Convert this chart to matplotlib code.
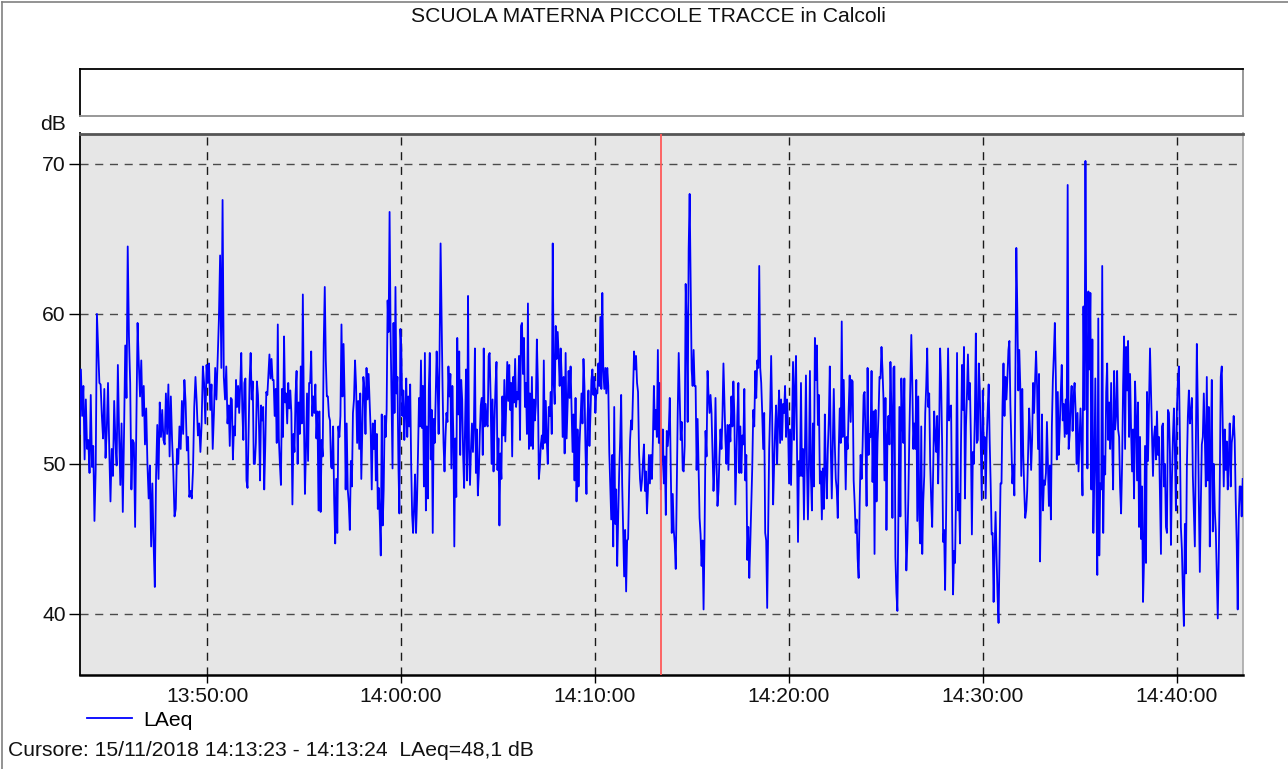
import numpy as np
import pandas as pd
import matplotlib
matplotlib.use('Agg')
from matplotlib import pyplot as plt
import matplotlib.dates as mdates
from matplotlib.lines import Line2D

plt.rcParams['font.family'] = ['Liberation Sans', 'DejaVu Sans']

day = '2018-11-15 '
title = 'SCUOLA MATERNA PICCOLE TRACCE in Calcoli'
cursor_time = '14:13:23'
cursor_text = 'Cursore: 15/11/2018 14:13:23 - 14:13:24  LAeq=48,1 dB'
x_from, x_to = '13:43:27', '14:43:24'
y_from, y_to = 35.93, 72.03
y_ticks = [40, 50, 60, 70]

# LAeq [dB] (each piece starts at seg_start)
seg_start = ['13:43:26', '13:51:07', '13:58:39', '14:06:14',
             '14:13:48', '14:21:23', '14:28:58', '14:36:30']
seg_end = '14:43:23'

laeq_a = [52.0, 56.3, 53.2, 55.2, 50.3, 54.3, 51.0, 51.6, 49.4, 54.6,
          49.8, 51.2, 46.2, 49.6, 60.0, 57.6, 55.4, 55.3, 53.2, 51.7,
          55.0, 50.4, 52.3, 55.4, 51.0, 47.5, 51.0, 49.2, 54.2, 51.6,
          49.9, 56.6, 52.0, 48.6, 52.7, 46.8, 52.0, 57.9, 54.4, 64.5,
          58.5, 55.4, 48.3, 51.6, 51.4, 45.8, 52.5, 59.4, 56.7, 54.5,
          56.9, 53.2, 55.2, 51.3, 53.7, 50.0, 47.7, 49.9, 44.5, 48.7,
          44.7, 41.8, 49.2, 52.6, 49.0, 54.1, 51.8, 53.6, 51.6, 51.3,
          54.7, 52.0, 55.3, 50.5, 54.5, 51.6, 49.5, 46.5, 47.0, 51.0,
          50.0, 52.5, 51.0, 54.2, 52.0, 55.6, 54.1, 50.9, 51.8, 47.8,
          48.2, 47.7, 49.6, 53.8, 55.8, 54.1, 51.9, 52.7, 50.8, 52.7,
          56.5, 55.4, 52.7, 56.6, 55.4, 56.7, 53.6, 55.3, 51.0, 53.4,
          56.4, 54.3, 56.9, 59.6, 63.9, 56.4, 67.6, 55.8, 54.3, 56.5,
          52.7]
laeq_b = [53.9, 51.2, 54.4, 54.3, 50.3, 52.5, 51.9, 55.6, 53.8, 55.2,
          53.4, 55.2, 57.4, 53.6, 51.6, 55.4, 55.7, 48.9, 48.4, 52.0,
          55.6, 57.4, 54.3, 55.5, 50.0, 50.0, 51.4, 55.5, 54.6, 52.5,
          48.9, 53.9, 52.9, 53.8, 48.3, 51.2, 54.8, 54.6, 56.0, 57.3,
          55.7, 57.0, 55.6, 55.6, 53.2, 55.0, 51.4, 59.3, 51.7, 50.0,
          48.6, 55.0, 51.8, 58.5, 54.1, 54.7, 52.7, 55.4, 53.7, 54.9,
          53.4, 47.3, 52.0, 50.8, 54.6, 56.2, 50.0, 54.1, 52.0, 56.5,
          52.7, 61.3, 53.2, 48.0, 51.0, 54.7, 50.2, 55.4, 55.4, 57.5,
          53.2, 54.5, 53.4, 55.3, 51.7, 53.5, 46.9, 53.5, 46.8, 51.6,
          50.5, 58.0, 61.8, 56.9, 54.5, 54.5, 53.2, 52.9, 49.8, 49.7,
          52.5, 47.6, 44.7, 49.0, 45.4, 52.5, 51.8, 53.2, 59.3, 54.5,
          58.0, 54.5, 48.3, 52.7, 48.3, 47.4, 45.6, 50.2, 48.5, 53.4,
          54.3, 56.9, 55.2, 51.4, 54.2, 51.0, 54.7, 49.0, 52.5, 55.8,
          55.0, 52.0, 56.4, 54.3, 56.0, 54.1, 52.2, 48.3, 52.7, 51.0]
laeq_c = [52.9, 48.9, 52.0, 47.0, 48.4, 46.3, 43.9, 53.3, 45.9, 48.3,
          53.2, 51.8, 53.6, 60.9, 58.8, 66.8, 58.9, 54.5, 49.7, 59.4,
          53.4, 61.8, 54.7, 55.8, 50.0, 46.7, 59.0, 57.6, 53.2, 54.9,
          51.6, 53.4, 55.7, 51.8, 54.5, 52.5, 55.3, 50.0, 46.6, 45.4,
          47.2, 49.3, 45.4, 47.6, 50.8, 54.4, 52.5, 56.9, 52.4, 55.2,
          48.5, 57.4, 46.9, 52.5, 47.7, 55.0, 57.4, 50.3, 53.6, 45.4,
          53.0, 51.4, 54.6, 57.5, 55.4, 52.0, 57.6, 64.7, 59.8, 55.2,
          51.4, 49.5, 51.8, 53.4, 52.8, 56.5, 54.5, 56.0, 49.7, 55.2,
          51.9, 44.5, 51.7, 47.8, 58.4, 53.3, 57.5, 50.6, 55.6, 54.3,
          50.6, 48.4, 52.8, 56.3, 48.9, 61.2, 51.0, 48.6, 51.0, 52.7,
          50.8, 52.7, 57.7, 49.4, 52.3, 47.9, 49.4, 52.0, 53.9, 54.4,
          50.6, 57.7, 52.5, 54.0, 52.7, 52.5, 57.2, 57.4, 54.5, 50.0,
          54.3, 49.5, 52.9, 55.2, 56.8, 49.6, 51.7, 45.9, 50.7, 49.0,
          54.5, 51.9, 55.6, 51.5, 54.3, 56.8, 54.2, 56.6, 53.6, 55.4,
          50.5, 55.8, 54.1, 57.0, 53.8, 54.8, 54.3, 57.2, 51.6, 59.2]
laeq_d = [59.4, 56.0, 58.4, 53.8, 55.4, 52.0, 60.7, 51.0, 54.7, 51.2,
          55.8, 51.0, 54.3, 52.9, 54.0, 58.3, 55.4, 49.0, 49.8, 51.3,
          51.9, 51.0, 56.9, 51.4, 54.2, 51.6, 50.0, 53.8, 53.2, 54.8,
          52.0, 64.7, 55.4, 54.0, 59.2, 57.0, 58.8, 57.2, 55.2, 57.7,
          55.8, 51.8, 55.8, 50.7, 57.4, 51.7, 54.0, 56.2, 54.4, 56.5,
          53.6, 50.8, 53.3, 48.9, 54.4, 47.5, 52.3, 48.5, 51.3, 52.9,
          54.7, 52.7, 57.0, 55.2, 51.0, 48.0, 52.9, 54.9, 51.2, 53.2,
          55.6, 56.3, 54.6, 55.8, 53.4, 54.9, 54.7, 56.7, 55.2, 59.8,
          55.0, 61.4, 56.2, 55.0, 56.4, 54.7, 56.4, 55.2, 50.8, 48.5,
          46.3, 50.6, 44.5, 53.8, 46.0, 48.3, 43.2, 46.5, 49.4, 51.6,
          54.6, 48.7, 45.5, 42.5, 45.6, 41.5, 44.9, 45.0, 48.5, 51.6,
          52.9, 52.3, 54.9, 57.5, 56.3, 57.2, 55.4, 54.8, 50.8, 49.0,
          48.2, 48.9, 50.2, 51.3, 48.2, 49.5, 46.7, 48.3, 50.6, 48.7,
          50.6, 49.0, 51.6, 55.2, 52.3, 53.6, 51.8, 57.6, 51.4, 55.4,
          48.3, 50.8, 52.3, 48.7, 50.5, 46.6, 52.2, 51.2]
laeq_e = [52.3, 54.4, 49.6, 45.4, 48.0, 45.6, 44.7, 43.0, 48.3, 53.4,
          57.4, 54.5, 51.6, 52.8, 49.6, 49.5, 51.2, 62.0, 59.4, 52.8,
          64.3, 68.0, 62.0, 56.3, 55.2, 57.6, 55.2, 55.2, 49.6, 53.0,
          49.6, 46.4, 45.3, 43.2, 44.9, 40.3, 45.2, 52.2, 50.5, 56.2,
          54.6, 53.4, 54.6, 53.4, 50.7, 48.2, 49.8, 54.4, 50.3, 47.2,
          48.2, 50.5, 52.3, 51.0, 53.2, 56.7, 54.0, 51.6, 50.0, 52.6,
          49.6, 52.6, 51.5, 54.5, 52.5, 55.5, 53.2, 47.3, 50.3, 53.2,
          55.4, 49.4, 52.5, 49.4, 51.9, 51.3, 55.0, 48.9, 50.6, 43.6,
          45.8, 42.4, 44.7, 47.4, 49.8, 53.6, 52.5, 56.2, 54.4, 56.9,
          56.4, 63.2, 56.4, 55.4, 53.4, 51.0, 53.4, 45.4, 44.9, 40.4,
          45.8, 51.0, 53.6, 57.2, 53.2, 47.3, 50.0, 52.3, 53.9, 50.0,
          52.9, 54.9, 51.4, 54.3, 51.6, 54.0, 53.4, 55.2, 51.8, 54.3,
          52.6, 48.7, 52.3, 48.6, 52.4, 56.8, 51.6, 54.9, 57.2, 51.2,
          44.8, 50.2, 49.2, 55.4, 49.2, 51.0, 46.3, 51.0, 55.9, 50.0,
          46.3, 49.9, 56.2, 49.2, 46.9, 52.7, 48.5, 58.4]
laeq_f = [55.6, 57.9, 52.6, 54.6, 48.7, 49.5, 46.3, 49.7, 47.0, 53.3,
          49.6, 47.7, 51.0, 52.9, 56.5, 51.0, 47.7, 51.4, 55.0, 51.4,
          49.0, 48.3, 46.4, 51.0, 53.7, 51.4, 59.5, 51.8, 55.6, 51.8,
          48.3, 51.8, 51.0, 53.7, 55.9, 52.8, 55.6, 55.5, 48.9, 47.4,
          45.4, 46.3, 43.7, 42.4, 47.2, 50.6, 49.0, 51.2, 54.6, 54.8,
          51.4, 47.2, 56.4, 50.6, 52.0, 51.8, 56.2, 48.8, 53.5, 44.0,
          53.6, 47.5, 51.5, 53.2, 55.8, 55.7, 57.8, 56.3, 54.3, 48.9,
          54.4, 45.6, 51.8, 53.2, 51.3, 56.8, 53.6, 46.4, 56.4, 56.5,
          43.8, 41.4, 40.2, 46.5, 53.8, 46.5, 55.7, 52.9, 51.4, 55.7,
          47.5, 42.9, 44.7, 47.7, 51.9, 55.4, 58.6, 55.4, 51.0, 52.7,
          51.0, 55.6, 46.2, 54.5, 46.6, 44.7, 52.5, 44.0, 47.5, 49.2,
          53.4, 55.2, 57.7, 53.8, 54.7, 50.0, 47.6, 45.8, 49.6, 53.5,
          51.9, 50.8, 53.2, 48.7, 52.0, 57.7, 55.4, 51.4, 44.8, 45.6,
          41.6, 46.5, 53.2, 57.7, 52.9, 53.8, 53.9, 46.9, 41.3, 44.2,
          43.4, 48.2, 57.4, 46.9, 48.0, 44.7, 51.4, 56.6]
laeq_g = [53.6, 57.8, 47.7, 52.5, 54.6, 57.3, 54.3, 55.4, 51.6, 45.3,
          50.8, 50.0, 53.2, 58.7, 51.4, 51.6, 56.7, 54.9, 51.4, 47.6,
          54.9, 51.0, 51.8, 47.7, 51.6, 53.6, 55.3, 51.6, 48.7, 45.3,
          45.4, 40.8, 44.3, 46.8, 43.8, 41.2, 39.4, 44.3, 48.7, 48.7,
          53.9, 56.7, 53.2, 55.8, 54.3, 55.8, 57.6, 58.2, 53.9, 51.4,
          48.7, 49.9, 47.9, 55.4, 64.4, 60.3, 54.9, 57.6, 55.2, 49.2,
          55.0, 50.7, 48.3, 46.4, 46.9, 48.2, 51.0, 53.7, 52.0, 49.6,
          51.6, 55.4, 53.4, 55.6, 57.5, 55.2, 51.0, 56.0, 43.5, 48.0,
          53.3, 46.9, 48.9, 48.6, 49.4, 52.8, 49.9, 47.2, 49.9, 46.3,
          52.5, 55.6, 57.3, 59.4, 55.8, 50.3, 54.8, 50.6, 52.5, 54.7,
          56.6, 52.9, 54.0, 51.8, 54.3, 52.0, 68.6, 51.0, 51.9, 54.0,
          55.2, 52.2, 54.5, 55.4, 53.6, 50.0, 53.4, 49.5, 51.7, 53.7,
          51.2, 47.9, 60.5, 53.6, 70.2, 57.2, 49.7, 61.5, 56.3, 61.4,
          48.3, 58.3, 45.4, 49.4, 55.7, 48.6, 42.6, 59.7, 43.9, 48.7,
          48.3, 63.2, 45.4, 50.5, 49.3, 54.8, 56.7, 51.6]
laeq_h = [54.1, 51.0, 55.4, 51.6, 48.3, 56.2, 52.3, 53.2, 56.2, 52.3,
          51.8, 48.4, 46.7, 50.0, 55.2, 58.5, 51.0, 57.8, 54.9, 58.2,
          51.8, 56.0, 52.3, 49.5, 52.3, 47.7, 55.5, 53.2, 48.9, 54.1,
          45.8, 51.8, 45.0, 48.5, 40.8, 43.6, 51.2, 43.4, 54.8, 50.2,
          54.1, 57.7, 54.7, 52.0, 49.2, 51.8, 52.5, 50.3, 53.5, 50.6,
          51.8, 47.8, 44.0, 52.5, 52.7, 48.5, 50.0, 45.8, 45.4, 53.6,
          53.4, 50.7, 44.6, 48.9, 51.8, 53.7, 50.8, 46.9, 53.6, 55.6,
          56.5, 51.8, 45.8, 44.3, 41.5, 39.2, 46.0, 42.7, 49.8, 53.2,
          54.9, 52.7, 53.4, 54.4, 49.2, 46.9, 44.5, 51.0, 58.0, 53.6,
          47.6, 42.8, 47.4, 51.3, 51.8, 54.7, 51.8, 48.5, 55.8, 48.9,
          53.8, 44.5, 51.0, 55.6, 45.5, 50.0, 46.9, 45.6, 42.5, 39.7,
          43.8, 48.7, 55.8, 56.5, 52.3, 48.5, 52.3, 49.6, 51.5, 48.3,
          50.3, 52.7, 48.5, 51.4, 52.0, 53.2, 51.6, 47.6, 44.7, 40.3,
          46.3, 48.5, 48.5, 46.5, 49.0]

segments = [laeq_a, laeq_b, laeq_c, laeq_d, laeq_e, laeq_f, laeq_g, laeq_h]


def tnum(hms):
  return mdates.date2num(pd.Timestamp(day + hms))


bounds = [tnum(s) for s in seg_start] + [tnum(seg_end)]
t = []
v = []
for i, seg in enumerate(segments):
  last = (i == len(segments) - 1)
  t.extend(np.linspace(bounds[i], bounds[i + 1], len(seg), endpoint=last))
  v.extend(seg)

W, H = 1288, 769
fs = 15.2
fig = plt.figure(figsize=(W / 100, H / 100), dpi=100)

# outer frame (top and left edges only visible)
fig.add_artist(Line2D([1.5 / W, 1.5 / W], [0, 1 - 1.5 / H], color='#808080', lw=1.2))
fig.add_artist(Line2D([1.5 / W, 1], [1 - 1.5 / H, 1 - 1.5 / H], color='#808080', lw=1.2))

fig.text(648 / W, 1 - 17 / H, title, ha='center', va='center', fontsize=fs, color='#111111')

# empty white box above the chart
box = fig.add_axes([80 / W, 1 - 116 / H, 1163 / W, 47 / H])
box.set_xticks([])
box.set_yticks([])
box.set_facecolor('white')
for side, col in (('top', 'black'), ('left', 'black'), ('right', '#909090'), ('bottom', '#909090')):
  box.spines[side].set_color(col)
  box.spines[side].set_linewidth(1.3)

ax = fig.add_axes([80 / W, 1 - 675 / H, 1163 / W, 541.5 / H])
ax.set_facecolor('#e6e6e6')
ax.plot(t, v, color='#0000ff', lw=1.3, label='LAeq', zorder=3)
ax.axvline(tnum(cursor_time), color='#ff5a5a', lw=1.3, zorder=4)

ax.set_xlim(tnum(x_from), tnum(x_to))
ax.set_ylim(y_from, y_to)
ax.set_yticks(y_ticks)
ax.xaxis.set_major_locator(mdates.MinuteLocator(byminute=range(0, 60, 10)))
ax.xaxis.set_major_formatter(mdates.DateFormatter('%H:%M:%S'))

ax.grid(axis='y', color='#4a4a4a', linestyle=(0, (5.8, 4.8)), lw=1.0)
ax.grid(axis='x', color='#1a1a1a', linestyle=(0, (5.8, 4.8)), lw=1.0)
ax.set_axisbelow(True)

ax.tick_params(axis='y', direction='out', length=7.7, width=1, pad=2.5, labelsize=fs, colors='black')
ax.tick_params(axis='x', direction='out', length=6, width=1, pad=3.0, labelsize=fs, colors='black')
for lab in ax.get_xticklabels() + ax.get_yticklabels():
  lab.set_color('#111111')

ax.spines['left'].set_color('black')
ax.spines['left'].set_linewidth(1.3)
ax.spines['bottom'].set_color('black')
ax.spines['bottom'].set_linewidth(1.8)
ax.spines['top'].set_color('#555555')
ax.spines['top'].set_linewidth(2.0)
ax.spines['right'].set_color('#a8a8a8')
ax.spines['right'].set_linewidth(1.2)

fig.text(66 / W, 1 - 124.5 / H, 'dB', ha='right', va='center', fontsize=fs, color='#111111')

fig.legend(loc='center left', bbox_to_anchor=(87 / W, 1 - 720 / H), frameon=False,
           fontsize=fs, handlelength=2.15, handletextpad=0.5, borderpad=0, borderaxespad=0)

fig.text(8 / W, 1 - 750 / H, cursor_text, ha='left', va='center', fontsize=fs, color='#111111')

fig.savefig('out.png', dpi=100)
